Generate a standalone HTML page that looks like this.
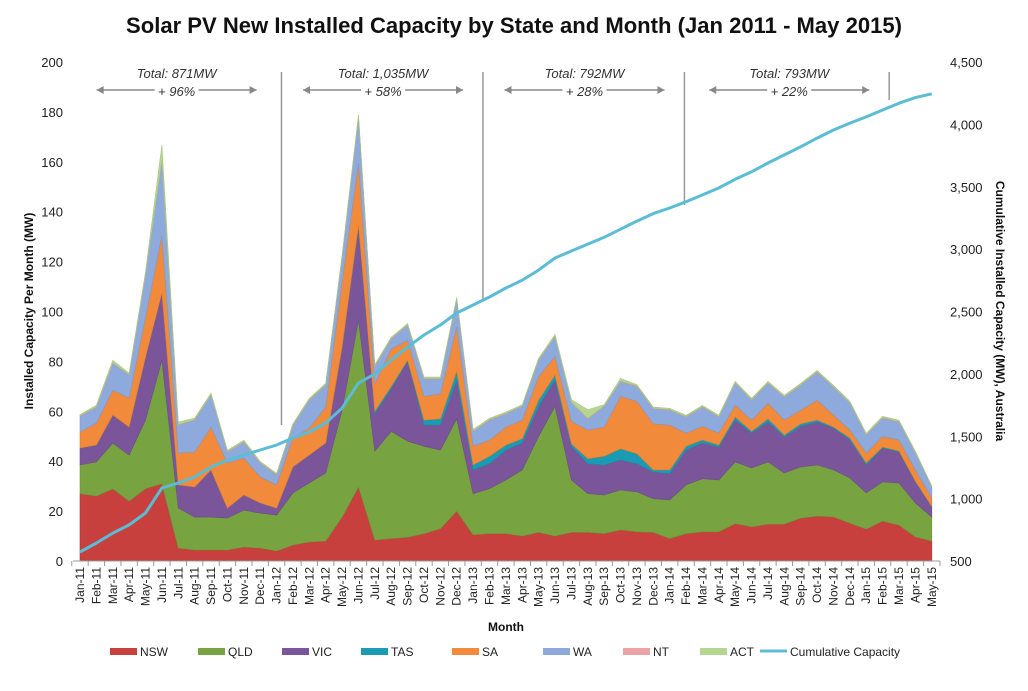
<!DOCTYPE html>
<html><head><meta charset="utf-8"><style>
html,body{margin:0;padding:0;background:#fff;}
body{width:1028px;height:686px;overflow:hidden;font-family:"Liberation Sans",Arial,sans-serif;}
svg text{font-family:"Liberation Sans",Arial,sans-serif;}
</style></head><body>
<svg id="chart" width="1028" height="686" xmlns="http://www.w3.org/2000/svg">
<text x="514" y="33" text-anchor="middle" font-size="22" font-weight="bold" fill="#111" textLength="776" lengthAdjust="spacingAndGlyphs">Solar PV New Installed Capacity by State and Month (Jan 2011 - May 2015)</text>
<g id="plot"></g>
</svg>
<script>
const months=["Jan-11","Feb-11","Mar-11","Apr-11","May-11","Jun-11","Jul-11","Aug-11","Sep-11","Oct-11","Nov-11","Dec-11","Jan-12","Feb-12","Mar-12","Apr-12","May-12","Jun-12","Jul-12","Aug-12","Sep-12","Oct-12","Nov-12","Dec-12","Jan-13","Feb-13","Mar-13","Apr-13","May-13","Jun-13","Jul-13","Aug-13","Sep-13","Oct-13","Nov-13","Dec-13","Jan-14","Feb-14","Mar-14","Apr-14","May-14","Jun-14","Jul-14","Aug-14","Sep-14","Oct-14","Nov-14","Dec-14","Jan-15","Feb-15","Mar-15","Apr-15","May-15"];
const nsw=[27,26,28.9,24,29,31,5.2,4.4,4.4,4.4,5.6,5.2,4,6.4,7.6,8,17.6,29.7,8.4,9,9.5,11,13,20,10.5,11,11,10,11.5,10,11.5,11.5,11,12.5,11.7,11.5,9,11,11.7,11.7,15,13.7,14.8,14.8,17.2,18,17.7,15.2,12.8,16,14.4,9.6,8];
const qld=[11.5,13.7,18.4,18.5,27.5,49.5,16,13.2,13.2,12.8,14.8,14,14.4,20.9,23.7,27.3,42.9,66.9,35.6,43,38.5,35,31.5,37,16.5,18,21.5,26.5,38.5,52,21,15.5,15.5,16,16,13.5,15.5,19.5,21.3,20.8,24.7,23.6,24.9,20.5,20.5,20.5,18.8,18.1,14.5,15.7,16.9,13.7,9.6];
const vic=[6.8,6.8,11.2,11.2,25.2,27,9.3,12.1,18.9,4,6.1,4.1,2.8,10.4,11.2,12,25.3,37.4,15,17,32,8.5,10,15.5,9.5,10,12,10.8,12,10.5,13.5,12,12,12,11.3,10.7,10.5,14,14.3,13.2,16.8,14,16,14.4,16.3,17.2,16.8,15.2,11.2,13.6,12.4,8.4,4];
const tas=[0,0,0,0,0,0,0,0,0,0,0,0,0,0,0,0,0,0.5,1,1,0.5,2,2.5,3.5,2,3,2,1.7,2.5,2,1,2,3.5,4.5,4,0.8,1.5,1.5,1.2,0.8,1.2,0.7,1.3,0.8,1,0.8,0.4,0.8,0.8,0.4,0.4,0.3,0.3];
const sa=[6.4,8.8,10,11.6,16,23,12.8,14,17.2,18.1,14.8,10.4,9.3,11.6,10.8,14.4,26,25,11,15,8,9.5,10,18,7.5,6.5,7.2,7.5,9.5,7.5,9,11.5,11.7,21,21,18.5,18,5.3,5.5,4.8,4.8,4.5,6.3,6,5.5,8,4.8,3.2,4,4.3,4.4,4.5,3.4];
const wa=[6.3,6.4,10.8,9.2,17,30,11.2,12.8,12.8,4.4,6.4,5.6,4,5,11.2,8.8,10,18.5,7,4,6,7,6,11,6,8,5.3,5.5,6.5,8,7.5,4.5,8.3,6,6,6,6,6.4,7.7,6.4,8.8,8,8,9.2,10,11.2,11.2,10.8,7.2,7.3,7.2,6.8,4.4];
const nt=[0.2,0.2,0.2,0.2,0.2,0.3,0.2,0.2,0.2,0.2,0.2,0.2,0.2,0.2,0.2,0.2,0.2,0.3,0.2,0.2,0.2,0.2,0.2,0.2,0.2,0.2,0.2,0.2,0.2,0.2,0.2,0.2,0.2,0.2,0.2,0.2,0.2,0.2,0.2,0.2,0.2,0.2,0.2,0.2,0.2,0.2,0.2,0.2,0.2,0.2,0.2,0.2,0.1];
const act=[0.5,0.6,1,0.6,1,6,1,0.6,0.6,0.5,0.5,0.4,0.4,0.5,0.5,0.5,0.6,0.6,0.5,0.5,0.5,0.5,0.5,0.5,0.5,0.5,0.5,0.5,0.6,0.6,1,3.5,0.5,1,0.5,0.5,0.5,0.5,0.5,0.5,0.5,0.5,0.5,0.5,0.5,0.5,0.5,0.5,0.5,0.5,0.5,0.5,0.3];
const cumulative=[572,644,724,789,885,1085,1125,1173,1253,1310,1350,1390,1430,1486,1534,1606,1726,1927,2000,2111,2215,2312,2392,2488,2552,2616,2688,2752,2832,2929,2985,3040,3095,3160,3225,3285,3330,3380,3435,3490,3560,3620,3690,3755,3820,3890,3955,4010,4060,4115,4170,4215,4245];
const leftTicks=[0,20,40,60,80,100,120,140,160,180,200];
const rightTicks=[500,1000,1500,2000,2500,3000,3500,4000,4500];
const rightTickLabels=["500","1,000","1,500","2,000","2,500","3,000","3,500","4,000","4,500"];
const periodTotals=["Total: 871MW","Total: 1,035MW","Total: 792MW","Total: 793MW"];
const periodGrowth=["+ 96%","+ 58%","+ 28%","+ 22%"];
const periodDividers=[12.3,24.6,36.9,49.4];
const periodCenters=[5.9,18.5,30.8,43.3];
const seriesNames=["NSW","QLD","VIC","TAS","SA","WA","NT","ACT"];

const NS="http://www.w3.org/2000/svg";
const plot=document.getElementById('plot');
function el(tag,attrs,parent){const e=document.createElementNS(NS,tag);for(const k in attrs)e.setAttribute(k,attrs[k]);(parent||plot).appendChild(e);return e;}
const X0=80,XSTEP=16.38,Y0=561,YTOP=62;
function xs(i){return X0+i*XSTEP;}
function yl(v){return Y0-(v/200)*(Y0-YTOP);}
function yr(v){return Y0-((v-500)/4000)*(Y0-YTOP);}

const series=[nsw,qld,vic,tas,sa,wa,nt,act];
const colors=["#c7403d","#77a340","#7a559a","#1a9bb3","#f28a3b","#8eaadc","#e9a3a3","#b5d593"];
const edges=["#b53835","#6e973a","#6e4c8c","#168ea4","#e07c30","#8299c6","#d99494","#a6c884"];
const base=months.map(()=>0);
series.forEach((s,k)=>{
  const top=base.map((b,i)=>b+s[i]);
  let d="M"+months.map((m,i)=>xs(i).toFixed(1)+","+yl(top[i]).toFixed(1)).join(" L");
  for(let i=months.length-1;i>=0;i--) d+=" L"+xs(i).toFixed(1)+","+yl(base[i]).toFixed(1);
  d+=" Z";
  const p=el('path',{d:d,fill:colors[k],stroke:edges[k],'stroke-width':0.6});
  
  
  top.forEach((t,i)=>base[i]=t);
});

const ax=el('line',{x1:73,y1:Y0,x2:940,y2:Y0,stroke:'#999','stroke-width':1});


months.forEach((m,i)=>{
  const tx=X0-XSTEP/2+i*XSTEP;
  el('line',{x1:tx,y1:Y0,x2:tx,y2:Y0+5,stroke:'#999','stroke-width':1});
  const t=el('text',{x:0,y:0,transform:`translate(${xs(i)+4},567) rotate(-90)`,'text-anchor':'end','font-size':12,fill:'#222'});
  t.textContent=m;
  
  
});
el('line',{x1:940,y1:Y0,x2:940,y2:Y0+5,stroke:'#999','stroke-width':1});
leftTicks.forEach(v=>{
  const t=el('text',{x:63,y:yl(v)+5,'text-anchor':'end','font-size':13,fill:'#222'});
  t.textContent=v;
  
  
});
rightTicks.forEach((v,i)=>{
  const t=el('text',{x:950,y:yr(v)+5,'text-anchor':'start','font-size':13,fill:'#222'});
  t.textContent=rightTickLabels[i];
  
  
});

const divTops=[425,300,205,100];
periodDividers.forEach((p,k)=>{
  const x=xs(p);
  const l=el('line',{x1:x,y1:72,x2:x,y2:divTops[k],stroke:'#999','stroke-width':1.5});
  
  
});
periodTotals.forEach((txt,k)=>{
  const cx=xs(periodCenters[k]);
  const t=el('text',{x:cx,y:78,'text-anchor':'middle','font-size':13,'font-style':'italic',fill:'#333'});
  t.textContent=txt;
  
  
  const g=el('text',{x:cx,y:96,'text-anchor':'middle','font-size':13,'font-style':'italic',fill:'#333'});
  g.textContent=periodGrowth[k];
  
  
  [[cx-22,cx-80],[cx+22,cx+80]].forEach(([a,b])=>{
    el('line',{x1:a,y1:90,x2:b,y2:90,stroke:'#888','stroke-width':1.5});
    const dir=b<a?1:-1;
    const ar=el('path',{d:`M${b},90 L${b+dir*7},86 L${b+dir*7},94 Z`,fill:'#888'});
    
    
  });
});

const cl=el('polyline',{points:cumulative.map((v,i)=>xs(i).toFixed(1)+","+yr(v).toFixed(1)).join(" "),fill:'none',stroke:'#5bbcd5','stroke-width':3,'stroke-linejoin':'round'});



const ylt=el('text',{x:0,y:0,transform:'translate(33,311) rotate(-90)','text-anchor':'middle','font-size':12,'font-weight':'bold',fill:'#111'});
ylt.textContent='Installed  Capacity Per Month  (MW)';


const yrt=el('text',{x:0,y:0,transform:'translate(996,311) rotate(90)','text-anchor':'middle','font-size':12,'font-weight':'bold',fill:'#111'});
yrt.textContent='Cumulative  Installed Capacity (MW), Australia';


const xt=el('text',{x:506,y:631,'text-anchor':'middle','font-size':12,'font-weight':'bold',fill:'#111'});
xt.textContent='Month';



const legX=[110,198,282,361,452,543,623,700];
seriesNames.forEach((n,k)=>{
  const r=el('rect',{x:legX[k],y:648,width:27,height:7,fill:colors[k]});
  
  
  const t=el('text',{x:legX[k]+30,y:656,'font-size':12,fill:'#222'});
  t.textContent=n;
  
  
});
const ll=el('line',{x1:760,y1:651,x2:787,y2:651,stroke:'#5bbcd5','stroke-width':3});


const lt=el('text',{x:790,y:656,'font-size':12,fill:'#222'});
lt.textContent='Cumulative Capacity';


</script>
</body></html>
